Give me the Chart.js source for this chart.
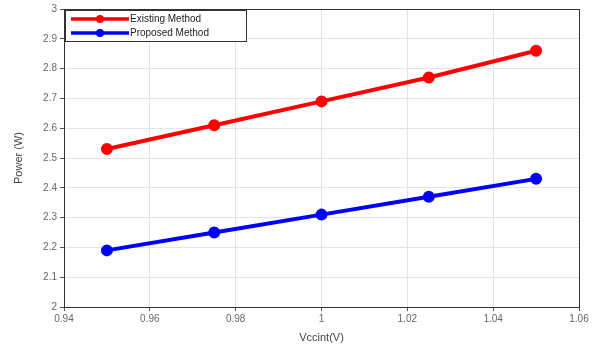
<!DOCTYPE html>
<html>
<head>
<meta charset="utf-8">
<script src="https://cdn.jsdelivr.net/npm/chart.js@4"></script>
<style>
  body { margin: 0; background: #fff; }
  #wrap { width: 600px; height: 349px; }
</style>
</head>
<body>
<div id="wrap"><canvas id="power_graph" width="600" height="349"></canvas></div>
<script>
// values
let vccint = [0.95, 0.975, 1.0, 1.025, 1.05]
let existingPower = [2.53, 2.61, 2.69, 2.77, 2.86]
let proposedPower = [2.19, 2.25, 2.31, 2.37, 2.43]
let seriesNames = ["Existing Method", "Proposed Method"]
let xTicks = [0.94, 0.96, 0.98, 1, 1.02, 1.04, 1.06]
let yTicks = [2, 2.1, 2.2, 2.3, 2.4, 2.5, 2.6, 2.7, 2.8, 2.9, 3]

let toPoints = (xs, ys) => xs.map((x, i) => ({ x: x, y: ys[i] }))
let fmt = v => String(Number(v.toFixed(2)))

// box round the plot + legend inside the top-left corner (matlab style)
let boxLegend = {
    id: 'boxLegend',
    afterDraw(chart) {
        let ctx = chart.ctx
        let a = chart.chartArea
        ctx.save()
        ctx.strokeStyle = '#333'
        ctx.lineWidth = 1
        ctx.strokeRect(a.left + 0.5, a.top + 0.5, a.right - a.left, a.bottom - a.top)

        let lx = a.left + 1, ly = a.top + 1, lw = 181, lh = 31
        ctx.fillStyle = '#fff'
        ctx.fillRect(lx, ly, lw, lh)
        ctx.strokeStyle = '#333'
        ctx.strokeRect(lx + 0.5, ly + 0.5, lw, lh)
        ctx.font = '10px "Liberation Sans", Arial, sans-serif'
        ctx.textBaseline = 'middle'
        chart.data.datasets.forEach((ds, i) => {
            let y = ly + 9 + i * 14
            ctx.strokeStyle = ds.borderColor
            ctx.lineWidth = 3.5
            ctx.beginPath()
            ctx.moveTo(lx + 6, y)
            ctx.lineTo(lx + 64, y)
            ctx.stroke()
            ctx.fillStyle = ds.borderColor
            ctx.beginPath()
            ctx.arc(lx + 35, y, 4, 0, Math.PI * 2)
            ctx.fill()
            ctx.fillStyle = '#222'
            ctx.fillText(ds.label, lx + 65, y)
        })
        ctx.restore()
    }
}

new Chart("power_graph", {
    type: 'line',
    data: {
        datasets: [{
            label: seriesNames[0],
            data: toPoints(vccint, existingPower),
            borderColor: '#ff0000',
            backgroundColor: '#ff0000',
            borderWidth: 4,
            pointRadius: 4,
            pointHoverRadius: 4
        }, {
            label: seriesNames[1],
            data: toPoints(vccint, proposedPower),
            borderColor: '#0000ff',
            backgroundColor: '#0000ff',
            borderWidth: 4,
            pointRadius: 4,
            pointHoverRadius: 4
        }]
    },
    options: {
        responsive: false,
        animation: false,
        layout: { padding: { top: 9, right: 21, left: 0, bottom: 0 } },
        plugins: {
            legend: { display: false },
            tooltip: { enabled: false }
        },
        scales: {
            x: {
                type: 'linear',
                min: 0.94,
                max: 1.06,
                afterBuildTicks: s => { s.ticks = xTicks.map(v => ({ value: v })) },
                afterFit: s => { s.height = 42 },
                grid: { color: '#e4e4e4', tickLength: 4, tickColor: '#555' },
                border: { color: '#333' },
                ticks: {
                    callback: v => fmt(v),
                    color: '#666',
                    font: { size: 10, family: 'Liberation Sans' },
                    maxRotation: 0,
                    padding: 2
                },
                title: {
                    display: true,
                    text: 'Vccint(V)',
                    color: '#444',
                    font: { size: 11, family: 'Liberation Sans' },
                    padding: { top: 1 }
                }
            },
            y: {
                type: 'linear',
                min: 2,
                max: 3,
                afterBuildTicks: s => { s.ticks = yTicks.map(v => ({ value: v })) },
                afterFit: s => { s.width = 64 },
                grid: { color: '#e4e4e4', tickLength: 4, tickColor: '#555' },
                border: { color: '#333' },
                ticks: {
                    callback: v => fmt(v),
                    color: '#666',
                    font: { size: 10, family: 'Liberation Sans' },
                    padding: 3
                },
                title: {
                    display: true,
                    text: 'Power (W)',
                    color: '#444',
                    font: { size: 11, family: 'Liberation Sans' },
                    padding: { top: 12, bottom: 2 }
                }
            }
        }
    },
    plugins: [boxLegend]
})
</script>
</body>
</html>
